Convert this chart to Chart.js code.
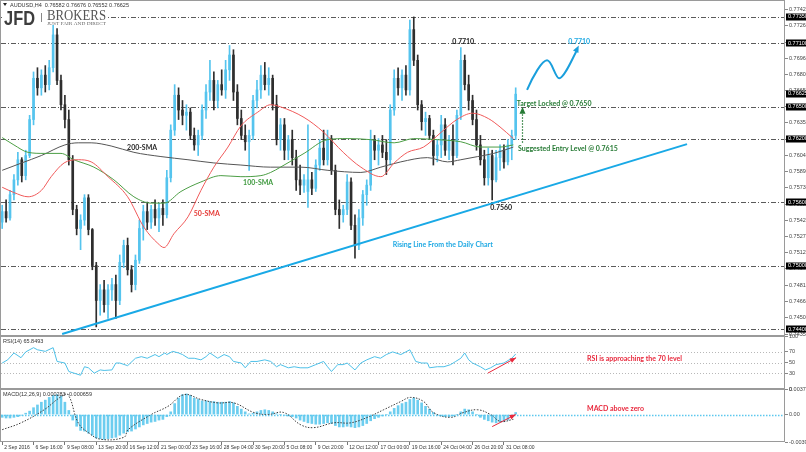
<!DOCTYPE html>
<html>
<head>
<meta charset="utf-8">
<script src="https://cdn.jsdelivr.net/npm/chart.js@4.4.0/dist/chart.umd.min.js"></script>
<style>
  html, body { margin: 0; padding: 0; background: #fff; }
  #wrap { position: relative; width: 806px; height: 452px; overflow: hidden; background: #fff; }
  canvas { position: absolute; left: 0; }
</style>
</head>
<body>
<div id="wrap">
  <canvas id="priceChart" width="806" height="337" style="top:0"></canvas>
  <canvas id="rsiChart" width="806" height="61" style="top:332px"></canvas>
  <canvas id="macdChart" width="806" height="67" style="top:385px"></canvas>
</div>
<script>
// ---- data (AUDUSD H4, one candle per 2 bars) ----
const xLabels = ["2 Sep 2016", "6 Sep 16:00", "9 Sep 08:00", "13 Sep 20:00", "16 Sep 12:00", "21 Sep 00:00",
  "23 Sep 16:00", "28 Sep 04:00", "30 Sep 20:00", "5 Oct 08:00", "9 Oct 20:00", "12 Oct 12:00",
  "17 Oct 00:00", "19 Oct 16:00", "24 Oct 04:00", "26 Oct 20:00", "31 Oct 08:00"];
const xTickStep = 8;

const priceTicks = [0.77420, 0.77265, 0.77110, 0.76960, 0.76805, 0.76655, 0.76500, 0.76350, 0.76195,
  0.76040, 0.75890, 0.75735, 0.75580, 0.75425, 0.75275, 0.75120, 0.74970, 0.74815, 0.74660, 0.74505, 0.74350];
const levelLines = [0.7735, 0.7710, 0.7650, 0.7620, 0.7560, 0.7500, 0.7440];
const lastPrice = 0.76625;

const opens = [0.7541,0.7551,0.7545,0.7567,0.7581,0.7600,0.7585,0.7604,0.7638,0.7677,
  0.7668,0.7680,0.7671,0.7687,0.7718,0.7675,0.7652,0.7638,0.7600,0.7553,
  0.7535,0.7543,0.7564,0.7534,0.7500,0.7467,0.7477,0.7463,0.7477,0.7482,
  0.7467,0.7503,0.7519,0.7496,0.7482,0.7505,0.7535,0.7551,0.7541,0.7553,
  0.7545,0.7554,0.7548,0.7583,0.7628,0.7661,0.7647,0.7642,0.7645,0.7623,
  0.7614,0.7623,0.7647,0.7664,0.7675,0.7656,0.7671,0.7666,0.7685,0.7699,
  0.7664,0.7639,0.7623,0.7617,0.7623,0.7656,0.7666,0.7680,0.7671,0.7677,
  0.7652,0.7619,0.7633,0.7609,0.7619,0.7602,0.7581,0.7576,0.7570,0.7581,
  0.7573,0.7595,0.7611,0.7600,0.7620,0.7590,0.7553,0.7548,0.7553,0.7579,
  0.7538,0.7519,0.7545,0.7567,0.7576,0.7619,0.7609,0.7614,0.7607,0.7600,
  0.7647,0.7677,0.7668,0.7680,0.7666,0.7723,0.7694,0.7652,0.7636,0.7639,
  0.7623,0.7604,0.7614,0.7633,0.7609,0.7619,0.7604,0.7642,0.7694,0.7671,
  0.7656,0.7638,0.7614,0.7600,0.7583,0.7604,0.7581,0.7602,0.7609,0.7598,
  0.7614,0.7623];
const highs = [0.7557,0.7562,0.7571,0.7586,0.7607,0.7602,0.7609,0.7642,0.7683,0.7687,
  0.7685,0.7689,0.7694,0.7727,0.7724,0.7680,0.7661,0.7647,0.7604,0.7557,
  0.7548,0.7567,0.7567,0.7535,0.7503,0.7482,0.7486,0.7482,0.7488,0.7491,
  0.7510,0.7524,0.7526,0.7500,0.7510,0.7543,0.7557,0.7560,0.7557,0.7562,
  0.7559,0.7562,0.7590,0.7633,0.7671,0.7668,0.7656,0.7652,0.7649,0.7630,
  0.7628,0.7652,0.7671,0.7694,0.7683,0.7675,0.7685,0.7694,0.7708,0.7704,
  0.7671,0.7647,0.7633,0.7628,0.7661,0.7675,0.7689,0.7692,0.7687,0.7680,
  0.7661,0.7639,0.7639,0.7623,0.7628,0.7609,0.7595,0.7586,0.7633,0.7588,
  0.7600,0.7619,0.7628,0.7628,0.7623,0.7595,0.7562,0.7557,0.7586,0.7583,
  0.7548,0.7553,0.7571,0.7581,0.7628,0.7623,0.7620,0.7623,0.7619,0.7652,
  0.7685,0.7687,0.7685,0.7689,0.7732,0.7735,0.7699,0.7656,0.7645,0.7642,
  0.7628,0.7619,0.7642,0.7639,0.7623,0.7633,0.7647,0.7706,0.7699,0.7680,
  0.7661,0.7647,0.7623,0.7609,0.7611,0.7609,0.7609,0.7614,0.7614,0.7619,
  0.7628,0.7668];
const lows = [0.7535,0.7541,0.7543,0.7562,0.7576,0.7579,0.7581,0.7602,0.7633,0.7661,
  0.7661,0.7664,0.7666,0.7683,0.7671,0.7647,0.7630,0.7595,0.7548,0.7529,
  0.7515,0.7538,0.7529,0.7496,0.7442,0.7453,0.7456,0.7450,0.7467,0.7450,
  0.7463,0.7498,0.7491,0.7475,0.7477,0.7502,0.7524,0.7534,0.7535,0.7538,
  0.7532,0.7538,0.7545,0.7579,0.7623,0.7638,0.7633,0.7628,0.7619,0.7609,
  0.7604,0.7619,0.7639,0.7656,0.7647,0.7649,0.7661,0.7658,0.7675,0.7656,
  0.7633,0.7619,0.7609,0.7590,0.7619,0.7649,0.7658,0.7666,0.7661,0.7647,
  0.7614,0.7609,0.7600,0.7600,0.7595,0.7571,0.7567,0.7569,0.7555,0.7567,
  0.7570,0.7590,0.7595,0.7595,0.7586,0.7548,0.7535,0.7541,0.7548,0.7534,
  0.7507,0.7515,0.7538,0.7557,0.7571,0.7600,0.7595,0.7602,0.7586,0.7595,
  0.7642,0.7661,0.7656,0.7661,0.7661,0.7689,0.7647,0.7628,0.7623,0.7619,
  0.7595,0.7598,0.7602,0.7604,0.7600,0.7595,0.7602,0.7638,0.7666,0.7647,
  0.7633,0.7609,0.7595,0.7576,0.7576,0.7562,0.7579,0.7590,0.7592,0.7595,
  0.7600,0.7619];
const closes = [0.7551,0.7545,0.7567,0.7581,0.7600,0.7585,0.7604,0.7638,0.7677,0.7668,
  0.7680,0.7671,0.7687,0.7718,0.7675,0.7652,0.7638,0.7600,0.7553,0.7535,
  0.7543,0.7564,0.7534,0.7500,0.7467,0.7477,0.7463,0.7477,0.7482,0.7467,
  0.7503,0.7519,0.7496,0.7482,0.7505,0.7535,0.7551,0.7541,0.7553,0.7545,
  0.7554,0.7548,0.7583,0.7628,0.7661,0.7647,0.7642,0.7645,0.7623,0.7614,
  0.7623,0.7647,0.7664,0.7675,0.7656,0.7671,0.7666,0.7685,0.7699,0.7664,
  0.7639,0.7623,0.7617,0.7623,0.7656,0.7666,0.7680,0.7671,0.7677,0.7652,
  0.7619,0.7633,0.7609,0.7619,0.7602,0.7581,0.7576,0.7581,0.7581,0.7573,
  0.7595,0.7611,0.7600,0.7620,0.7590,0.7553,0.7548,0.7553,0.7579,0.7538,
  0.7519,0.7545,0.7567,0.7576,0.7619,0.7609,0.7614,0.7607,0.7600,0.7647,
  0.7677,0.7668,0.7680,0.7666,0.7723,0.7694,0.7652,0.7636,0.7639,0.7623,
  0.7604,0.7614,0.7633,0.7609,0.7619,0.7604,0.7642,0.7694,0.7671,0.7656,
  0.7638,0.7614,0.7600,0.7583,0.7604,0.7581,0.7602,0.7609,0.7598,0.7614,
  0.7623,0.7662];

// moving averages as [candle index, price]
const sma50 = [[0,0.7574],[3,0.7569],[6.6,0.7565],[10,0.7571],[12.5,0.7584],[15.8,0.7597],[19.4,0.7600],
  [22.7,0.7598],[27,0.7584],[32,0.7565],[36.2,0.7536],[39.7,0.7521],[41.3,0.7517],[43.8,0.7530],[47.4,0.7546],
  [50.7,0.7571],[54,0.7593],[57.6,0.7612],[60.9,0.7632],[65.2,0.7645],[68.5,0.7652],[71,0.7650],[77,0.7640],
  [82,0.7626],[87,0.7607],[91.5,0.7593],[96.6,0.7584],[100,0.7597],[103.4,0.7607],[107.5,0.7612],[112,0.7626],
  [116,0.7638],[120,0.7644],[124,0.7639],[127,0.7631],[130.4,0.7620]];
const sma100 = [[0,0.7621],[3,0.7614],[6.6,0.7607],[10.7,0.7606],[15,0.7606],[18.3,0.7600],[23.4,0.7593],
  [28.5,0.7581],[33.6,0.7565],[38,0.7559],[41.3,0.7559],[45.6,0.7570],[50.7,0.7579],[55.8,0.7585],[60.9,0.7584],
  [66,0.7585],[68.5,0.7588],[71,0.7593],[77,0.7606],[83,0.7619],[88,0.7620],[94,0.7619],[100,0.7616],
  [105,0.7620],[111,0.7619],[117,0.7617],[122,0.7612],[127,0.7612],[130.4,0.7614]];
const sma200 = [[0,0.7590],[5,0.7597],[10,0.7604],[16,0.7614],[19.4,0.7616],[22.7,0.7616],[27.8,0.7613],
  [33.6,0.7607],[40.5,0.7603],[47.4,0.7600],[54,0.7597],[60.9,0.7595],[68.5,0.7593],[76.2,0.7593],[83.1,0.7590],
  [91.5,0.7588],[96.6,0.7593],[101.7,0.7598],[108.5,0.7602],[113.6,0.7598],[117,0.7600],[121.3,0.7603],
  [125.4,0.7606],[130.4,0.7612]];
const trendLine = [[15.3, 0.74353], [174.7, 0.76148]];

const rsiPts = [[0,49],[1.4,55],[3,68],[4.8,59],[6,70],[8,78],[9,74],[11,71],[13,78],[14,52],[16,49],[17,33],
  [20,26],[21,42],[22,40],[23.5,30],[25,36],[26,35],[28,36],[29,49],[30,49],[32,44],[34,58],[35.5,61],[37,58],
  [39,65],[40,61],[41.5,68],[42,65],[43.5,71],[45,68],[46,65],[47.5,58],[49,58],[50.7,55],[52,61],[53,68],
  [55,58],[56.6,65],[58,61],[59,52],[61,49],[62,40],[63.4,52],[65,52],[67,55],[68.5,52],[70,42],[71,46],
  [73,40],[74.5,42],[76,40],[78,40],[80,46],[82,52],[83,42],[84,33],[85.6,46],[87,46],[88,49],[90,36],
  [91.5,49],[93,55],[95,61],[96.5,58],[98,65],[99.6,70],[101.7,65],[104,74],[105.5,52],[107,49],[108.5,49],
  [109,40],[111,42],[112.7,42],[114.4,46],[115.7,52],[117,58],[118,68],[119,55],[120,49],[122,42],[123.3,36],
  [124.6,40],[126,46],[128,49],[130,58],[131,66]];
const rsiLevels = [70, 50, 30];

const macdHist = [-0.0004,-0.0005,-0.0005,-0.0004,-0.0003,-0.0001,0.0002,0.0005,0.0010,0.0014,
  0.0018,0.0021,0.0025,0.0028,0.0029,0.0027,0.0018,0.0006,-0.0008,-0.0017,
  -0.0023,-0.0024,-0.0027,-0.0030,-0.0034,-0.0035,-0.0036,-0.0035,-0.0034,-0.0033,
  -0.0030,-0.0027,-0.0025,-0.0024,-0.0021,-0.0018,-0.0015,-0.0013,-0.0011,-0.0010,
  -0.0008,-0.0007,-0.0003,0.0004,0.0016,0.0024,0.0029,0.0030,0.0028,0.0024,
  0.0022,0.0020,0.0020,0.0019,0.0019,0.0018,0.0018,0.0018,0.0019,0.0017,
  0.0012,0.0008,0.0004,0.0001,0.0002,0.0004,0.0006,0.0007,0.0006,0.0004,
  0.0001,0.0000,-0.0001,-0.0002,-0.0003,-0.0005,-0.0008,-0.0010,-0.0012,-0.0013,
  -0.0014,-0.0014,-0.0013,-0.0012,-0.0013,-0.0016,-0.0018,-0.0018,-0.0017,-0.0018,
  -0.0019,-0.0018,-0.0016,-0.0013,-0.0009,-0.0006,-0.0004,-0.0002,0.0000,0.0004,
  0.0009,0.0013,0.0016,0.0018,0.0022,0.0024,0.0021,0.0017,0.0012,0.0008,
  0.0003,-0.0001,-0.0002,-0.0003,-0.0003,-0.0002,0.0000,0.0004,0.0008,0.0007,
  0.0004,0.0000,-0.0004,-0.0007,-0.0009,-0.0011,-0.0012,-0.0011,-0.0010,-0.0008,
  -0.0004,0.0003];
const macdSignal = [[0,-0.0022],[4.8,-0.0012],[10.7,0.0007],[15,0.0026],[16.8,0.0029],[19.4,-0.0012],
  [21.9,-0.0026],[25.2,-0.0036],[31.1,-0.0033],[32.1,-0.0022],[38,0.0000],[42.3,0.0012],[46.4,0.0029],
  [50.7,0.0022],[55,0.0017],[59.1,0.0017],[64.2,0.0003],[67.8,0.0000],[71.8,0.0003],[76.2,-0.0015],
  [79.5,-0.0019],[84.6,-0.0012],[88.9,-0.0012],[93.2,-0.0004],[97.3,0.0007],[101.7,0.0019],[104.2,0.0025],
  [107.5,0.0019],[110,0.0003],[114.4,-0.0004],[117.7,0.0003],[121.3,0.0007],[124.6,0.0000],[127.1,-0.0010],
  [130.4,-0.0007]];
const macdTicks = [0.003722, 0, -0.003991];

// ---- shared settings ----
Chart.defaults.font.family = '"Liberation Sans", Arial, sans-serif';
const X_MIN = -0.3, X_MAX = 199.7;
const UP = '#55c4ee', DOWN = '#2e2e2e';
const FRAME = '#9a9a9a';

function xAxis(display) {
  return { type: 'linear', min: X_MIN, max: X_MAX, offset: false, display: display, grid: { offset: false } };
}
function rightAxis(min, max, values, fmt) {
  return {
    position: 'right', min: min, max: max,
    afterBuildTicks: s => { s.ticks = values.map(v => ({ value: v })); },
    afterFit: s => { s.width = 21; s.paddingTop = 0; s.paddingBottom = 0; },
    grid: { drawOnChartArea: false, drawTicks: true, tickLength: 3, color: '#888' },
    border: { display: false },
    ticks: { font: { size: 5.5 }, color: '#444', padding: 1, autoSkip: false, callback: fmt }
  };
}
const pairs = arr => arr.map(p => ({ x: p[0], y: p[1] }));
const noPlugins = { legend: { display: false }, tooltip: { enabled: false } };

function frame(chart) {
  const { ctx, chartArea: a } = chart;
  ctx.save();
  ctx.strokeStyle = FRAME; ctx.lineWidth = 1;
  ctx.strokeRect(a.left - 0.5, a.top + 0.5, a.right - a.left, a.bottom - a.top - 1);
  ctx.restore();
}
function arrowHead(ctx, x, y, ang, len, wid, color) {
  ctx.save(); ctx.translate(x, y); ctx.rotate(ang);
  ctx.fillStyle = color; ctx.beginPath();
  ctx.moveTo(0, 0); ctx.lineTo(-len, -wid / 2); ctx.lineTo(-len, wid / 2); ctx.closePath(); ctx.fill();
  ctx.restore();
}
function redArrow(ctx, x1, y1, x2, y2) {
  ctx.save();
  ctx.strokeStyle = '#e8283c'; ctx.lineWidth = 1;
  ctx.beginPath(); ctx.moveTo(x1, y1); ctx.lineTo(x2, y2); ctx.stroke();
  arrowHead(ctx, x2, y2, Math.atan2(y2 - y1, x2 - x1), 6, 5, '#e8283c');
  ctx.restore();
}
function fitText(ctx, text, x, y, width) {
  const w = ctx.measureText(text).width;
  ctx.save(); ctx.translate(x, y); ctx.scale(width / w, 1); ctx.fillText(text, 0, 0); ctx.restore();
}

// ---- price panel ----
const levelPlugin = {
  id: 'levels',
  beforeDatasetsDraw(chart) {
    const { ctx, chartArea: a, scales: { y } } = chart;
    ctx.save();
    ctx.strokeStyle = '#5a5a5a'; ctx.lineWidth = 1; ctx.setLineDash([5, 2, 1, 2]);
    levelLines.forEach(v => {
      const py = Math.round(y.getPixelForValue(v)) + 0.5;
      ctx.beginPath(); ctx.moveTo(a.left, py); ctx.lineTo(a.right, py); ctx.stroke();
    });
    ctx.restore();
  }
};

const mainOverlay = {
  id: 'mainOverlay',
  afterDatasetsDraw(chart) {
    const { ctx, scales: { x, y } } = chart;
    const X = v => x.getPixelForValue(v), Y = v => y.getPixelForValue(v);
    ctx.save();
    ctx.textBaseline = 'middle';
    ctx.font = 'bold 7px Lato';
    const label = (t, i, p, color, align) => {
      ctx.fillStyle = color; ctx.textAlign = align || 'center'; ctx.fillText(t, X(i), Y(p));
    };
    label('200-SMA', 35.7, 0.7611, '#2a2a2a');
    label('100-SMA', 65.3, 0.7578, '#3f9a3f');
    label('50-SMA', 52.2, 0.7549, '#e53935');
    label('0.7710', 117.6, 0.7712, '#1a1a1a');
    label('0.7560', 127.3, 0.7555, '#1a1a1a');
    label('Rising Line From the Daily Chart', 112.4, 0.7520, '#1fa9e3');
    label('Target Locked @ 0.7650', 131.3, 0.7653, '#267a34', 'left');
    label('Suggested Entry Level @ 0.7615', 131.6, 0.7610, '#267a34', 'left');
    label('0.7710', 147.2, 0.7712, '#1fa9e3');

    // dotted green arrow from entry to target
    const gx = Math.round(X(132.6)) + 0.5;
    ctx.strokeStyle = '#267a34'; ctx.lineWidth = 1.2; ctx.setLineDash([1.5, 1.5]);
    ctx.beginPath(); ctx.moveTo(gx, Y(0.7616)); ctx.lineTo(gx, Y(0.7643)); ctx.stroke();
    ctx.setLineDash([]);
    arrowHead(ctx, gx, Y(0.7650), -Math.PI / 2, 7, 6, '#267a34');

    // projected wave towards 0.7710
    const s = [X(133.9), Y(0.7666)], pk = [X(139), Y(0.7694)], tr = [X(142.1), Y(0.7677)], e = [X(147.1), Y(0.7708)];
    ctx.strokeStyle = '#1a9fdc'; ctx.lineWidth = 2;
    ctx.beginPath(); ctx.moveTo(s[0], s[1]);
    ctx.bezierCurveTo(s[0] + 6, s[1] - 14, pk[0] - 5, pk[1], pk[0], pk[1]);
    ctx.bezierCurveTo(pk[0] + 5, pk[1], tr[0] - 4, tr[1], tr[0], tr[1]);
    ctx.bezierCurveTo(tr[0] + 5, tr[1], e[0] - 6, e[1] + 12, e[0] - 2, e[1] + 5);
    ctx.stroke();
    arrowHead(ctx, e[0], e[1], Math.atan2(-8, 4), 7, 6, '#1a9fdc');
    ctx.restore();
  },
  afterDraw(chart) {
    const { ctx, chartArea: a, scales: { y } } = chart;
    frame(chart);
    ctx.save();
    // black price boxes on the axis
    ctx.font = '5.5px "Liberation Sans"'; ctx.textBaseline = 'middle'; ctx.textAlign = 'left';
    levelLines.concat([lastPrice]).forEach(v => {
      const py = y.getPixelForValue(v);
      ctx.fillStyle = '#000'; ctx.fillRect(a.right + 1, Math.round(py) - 3.5, 21, 7);
      ctx.fillStyle = '#fff'; ctx.fillText(v.toFixed(5), a.right + 3, py);
    });
    // logo
    ctx.fillStyle = '#fff'; ctx.fillRect(2, 8, 106, 17);
    ctx.textBaseline = 'alphabetic';
    ctx.fillStyle = '#3d3d3d'; ctx.font = 'bold 21px "Liberation Sans"';
    fitText(ctx, 'JFD', 4, 25, 31);
    ctx.fillStyle = '#888'; ctx.fillRect(41, 13, 1, 9);
    ctx.fillStyle = '#555'; ctx.font = '14px "Liberation Serif"';
    fitText(ctx, 'BROKERS', 47, 19.5, 59);
    ctx.fillStyle = '#666'; ctx.font = '4.5px "Liberation Serif"';
    fitText(ctx, 'JUST FAIR AND DIRECT', 47, 25, 59);
    // title
    ctx.fillStyle = '#222';
    ctx.beginPath(); ctx.moveTo(3, 3); ctx.lineTo(7, 3); ctx.lineTo(5, 6); ctx.closePath(); ctx.fill();
    ctx.font = '5.5px "Liberation Sans"'; ctx.fillStyle = '#333'; ctx.textBaseline = 'middle';
    ctx.fillText('AUDUSD,H4  0.76582 0.76676 0.76552 0.76625', 10, 5);
    ctx.restore();
  }
};

const candleIdx = closes.map((_, i) => i);
const candleColor = c => closes[c.dataIndex] >= opens[c.dataIndex] ? UP : DOWN;

new Chart(document.getElementById('priceChart'), {
  type: 'bar',
  data: {
    datasets: [
      { type: 'line', data: pairs(trendLine), borderColor: '#19a9e6', borderWidth: 2, pointRadius: 0, order: 0 },
      { type: 'line', data: pairs(sma50), borderColor: '#f05a5a', borderWidth: 1, pointRadius: 0, cubicInterpolationMode: 'monotone', order: 1 },
      { type: 'line', data: pairs(sma100), borderColor: '#4c9e45', borderWidth: 1, pointRadius: 0, cubicInterpolationMode: 'monotone', order: 1 },
      { type: 'line', data: pairs(sma200), borderColor: '#555', borderWidth: 1, pointRadius: 0, cubicInterpolationMode: 'monotone', order: 1 },
      { data: candleIdx.map(i => ({ x: i, y: [opens[i], closes[i]] })), backgroundColor: candleColor,
        barThickness: 2, grouped: false, borderWidth: 0, order: 3 },
      { data: candleIdx.map(i => ({ x: i, y: [lows[i], highs[i]] })), backgroundColor: candleColor,
        barThickness: 1, grouped: false, borderWidth: 0, order: 4 }
    ]
  },
  options: {
    responsive: false, animation: false, events: [],
    layout: { padding: { left: 1, top: 0, right: 0, bottom: 1 } },
    plugins: noPlugins,
    scales: {
      x: xAxis(false),
      y: rightAxis(0.74334, 0.77510, priceTicks, v => v.toFixed(5))
    }
  },
  plugins: [levelPlugin, mainOverlay]
});

// ---- RSI panel ----
const rsiOverlay = {
  id: 'rsiOverlay',
  beforeDatasetsDraw(chart) {
    const { ctx, chartArea: a, scales: { y } } = chart;
    ctx.save();
    ctx.strokeStyle = '#b8b8b8'; ctx.lineWidth = 1; ctx.setLineDash([1, 2]);
    rsiLevels.forEach(v => {
      const py = Math.round(y.getPixelForValue(v)) + 0.5;
      ctx.beginPath(); ctx.moveTo(a.left, py); ctx.lineTo(a.right, py); ctx.stroke();
    });
    ctx.restore();
  },
  afterDraw(chart) {
    const { ctx, scales: { x, y } } = chart;
    frame(chart);
    ctx.save();
    ctx.font = '5.5px "Liberation Sans"'; ctx.fillStyle = '#333'; ctx.textBaseline = 'middle';
    ctx.fillText('RSI(14) 65.8493', 3, 9);
    redArrow(ctx, x.getPixelForValue(123.9), y.getPixelForValue(30), x.getPixelForValue(131.1), y.getPixelForValue(59));
    ctx.font = 'bold 7px Lato'; ctx.fillStyle = '#e8283c'; ctx.textAlign = 'left';
    ctx.fillText('RSI is approaching the 70 level', x.getPixelForValue(149.2), y.getPixelForValue(57));
    ctx.restore();
  }
};

new Chart(document.getElementById('rsiChart'), {
  type: 'line',
  data: { datasets: [{ data: pairs(rsiPts), borderColor: '#4dc0e8', borderWidth: 1, pointRadius: 0 }] },
  options: {
    responsive: false, animation: false, events: [],
    layout: { padding: { left: 1, top: 4, right: 0, bottom: 4 } },
    plugins: noPlugins,
    scales: { x: xAxis(false), y: rightAxis(0, 100, [100, 70, 50, 30, 0], v => String(v)) }
  },
  plugins: [rsiOverlay]
});

// ---- MACD panel ----
const macdOverlay = {
  id: 'macdOverlay',
  afterDatasetsDraw(chart) {
    const { ctx, chartArea: a, scales: { y } } = chart;
    ctx.save();
    ctx.strokeStyle = '#5cc8ee'; ctx.lineWidth = 1.5; ctx.setLineDash([1.5, 1.5]);
    const py = Math.round(y.getPixelForValue(0)) + 0.5;
    ctx.beginPath(); ctx.moveTo(a.left, py); ctx.lineTo(a.right, py); ctx.stroke();
    ctx.restore();
  },
  afterDraw(chart) {
    const { ctx, scales: { x, y } } = chart;
    frame(chart);
    ctx.save();
    ctx.font = '5.5px "Liberation Sans"'; ctx.fillStyle = '#333'; ctx.textBaseline = 'middle';
    ctx.fillText('MACD(12,26,9) 0.000283 -0.000659', 3, 9);
    redArrow(ctx, x.getPixelForValue(125), y.getPixelForValue(-0.00175), x.getPixelForValue(131), y.getPixelForValue(0));
    ctx.font = 'bold 7px Lato'; ctx.fillStyle = '#e8283c'; ctx.textAlign = 'left';
    ctx.fillText('MACD above zero', x.getPixelForValue(149.2), y.getPixelForValue(0.00087));
    ctx.restore();
  }
};

const macdX = xAxis(true);
macdX.afterBuildTicks = s => { s.ticks = xLabels.map((_, k) => ({ value: k * xTickStep })); };
macdX.afterFit = s => { s.height = 10; s.paddingLeft = 0; s.paddingRight = 0; };
macdX.grid = { offset: false, drawOnChartArea: false, drawTicks: true, tickLength: 3, color: '#777' };
macdX.border = { display: false };
macdX.ticks = { font: { size: 5 }, color: '#333', padding: 0, autoSkip: false, maxRotation: 0, minRotation: 0,
  align: 'start', labelOffset: 2, callback: (v, i) => xLabels[i] };

new Chart(document.getElementById('macdChart'), {
  type: 'bar',
  data: {
    datasets: [
      { type: 'line', data: pairs(macdSignal), borderColor: '#3a3a3a', borderWidth: 1, borderDash: [1.5, 1.5],
        pointRadius: 0, tension: 0.4, order: 0 },
      { data: macdHist.map((v, i) => ({ x: i, y: v })), backgroundColor: '#6ccdef', barThickness: 2,
        grouped: false, borderWidth: 0, order: 1 }
    ]
  },
  options: {
    responsive: false, animation: false, events: [],
    layout: { padding: { left: 1, top: 4, right: 0, bottom: 0 } },
    plugins: noPlugins,
    scales: {
      x: macdX,
      y: rightAxis(-0.003991, 0.003722, macdTicks, v => v === 0 ? '0.00' : v.toFixed(6))
    }
  },
  plugins: [macdOverlay]
});
</script>
</body>
</html>
